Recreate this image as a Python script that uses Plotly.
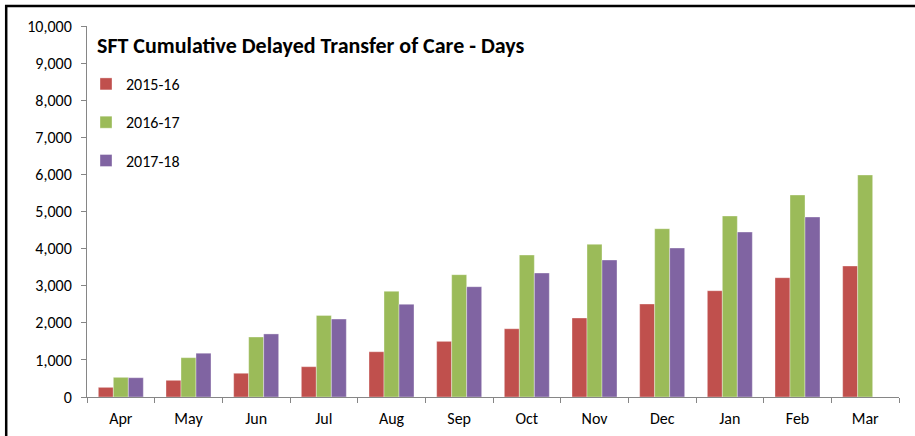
import plotly.graph_objects as go

months = ["Apr", "May", "Jun", "Jul", "Aug", "Sep", "Oct", "Nov", "Dec", "Jan", "Feb", "Mar"]
s_2015_16 = [260, 450, 640, 817, 1220, 1500, 1840, 2130, 2507, 2865, 3216, 3531]
s_2016_17 = [530, 1060, 1617, 2200, 2850, 3297, 3827, 4116, 4536, 4879, 5445, 5984]
s_2017_18 = [520, 1180, 1700, 2100, 2500, 2973, 3342, 3693, 4016, 4447, 4852, None]
series_names = ["2015-16", "2016-17", "2017-18"]
colors = ["#C0504D", "#9BBB59", "#8064A2"]
y_ticks = list(range(0, 10001, 1000))

fig = go.Figure()
for i, (name, vals) in enumerate(zip(series_names, [s_2015_16, s_2016_17, s_2017_18])):
    fig.add_trace(go.Bar(
        x=months, y=vals, name=name, legendgroup=name,
        marker=dict(color=colors[i], line=dict(color="rgba(255,255,255,0.6)", width=0.6)),
    ))

font_family = "Carlito, Calibri, 'Open Sans', 'Liberation Sans', sans-serif"

W, H = 915, 436
L, R, T, B = 87, 16, 26, 39
pw = W - L - R
ph = H - T - B

def px_x(x):
    return (x - L) / pw

def px_y(y):
    return (H - B - y) / ph

fig.update_layout(
    width=W, height=H,
    margin=dict(l=L, r=R, t=T, b=B),
    paper_bgcolor="white", plot_bgcolor="white",
    barmode="group", bargap=0.335, bargroupgap=0,
    font=dict(family=font_family, size=16, color="#000000"),
    showlegend=True,
    legend=dict(
        x=px_x(86), y=px_y(67), xanchor="left", yanchor="top",
        bgcolor="rgba(0,0,0,0)", font=dict(size=16, color="#000000"),
        tracegroupgap=14.5, traceorder="grouped", itemwidth=30,
    ),
    xaxis=dict(
        showline=True, linecolor="#868686", linewidth=1,
        ticks="outside", tickcolor="#868686", ticklen=5, tickson="boundaries",
        ticklabelstandoff=7, automargin=False,
        showgrid=False, tickfont=dict(size=16, color="#000000"),
    ),
    yaxis=dict(
        range=[0, 10000], tickvals=y_ticks, tickformat=",d",
        showline=True, linecolor="#868686", linewidth=1,
        ticks="outside", tickcolor="#868686", ticklen=5, ticklabelstandoff=6,
        automargin=False,
        showgrid=False, zeroline=False, tickfont=dict(size=16, color="#000000"),
    ),
    annotations=[dict(
        text="<b>SFT Cumulative Delayed Transfer of Care - Days</b>",
        xref="paper", yref="paper", x=px_x(95), y=px_y(45),
        xanchor="left", yanchor="middle", showarrow=False,
        font=dict(size=22, color="#000000", family=font_family),
    )],
    shapes=[
        dict(type="line", xref="paper", yref="paper", x0=px_x(5), x1=px_x(920),
             y0=px_y(6), y1=px_y(6), line=dict(color="black", width=2.5)),
        dict(type="line", xref="paper", yref="paper", x0=px_x(6.2), x1=px_x(6.2),
             y0=px_y(5), y1=px_y(440), line=dict(color="black", width=2.5)),
    ],
)

fig.write_html(
    "out.html",
    config={"displayModeBar": False},
    post_script="document.body.style.margin='0px';document.body.style.padding='0px';",
)
